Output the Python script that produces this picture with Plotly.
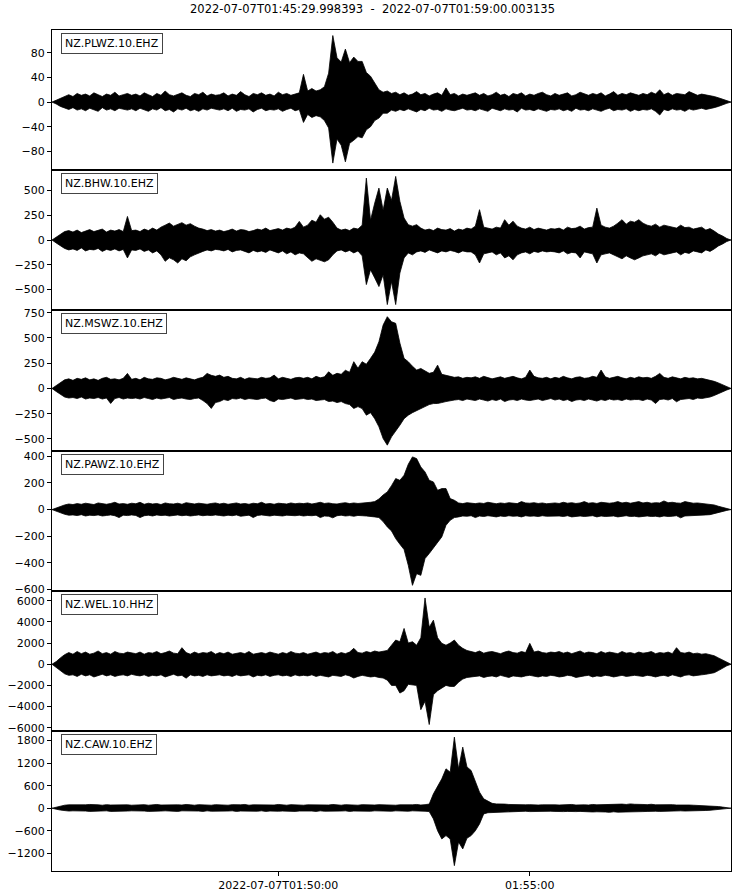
import pandas as pd
import plotly.graph_objects as go
from plotly.subplots import make_subplots

# ---------------- data (envelopes, one value every 5 s) ----------------
start_time = "2022-07-07 01:45:30"
step_seconds = 5
title_text = "2022-07-07T01:45:29.998393  -  2022-07-07T01:59:00.003135"
stations = ["NZ.PLWZ.10.EHZ", "NZ.BHW.10.EHZ", "NZ.MSWZ.10.EHZ",
            "NZ.PAWZ.10.EHZ", "NZ.WEL.10.HHZ", "NZ.CAW.10.EHZ"]

plwz_max = [0, 3, 7, 10, 12, 9, 14, 11, 13, 10, 15, 12, 9, 13, 11, 16, 10, 12, 14, 11,
            13, 10, 15, 12, 9, 14, 11, 18, 12, 10, 13, 15, 11, 9, 14, 12, 16, 10, 13, 11,
            12, 15, 10, 13, 11, 17, 12, 9, 14, 12, 15, 11, 13, 10, 16, 12, 14, 11, 13, 15,
            45, 18, 22, 18, 20, 25, 47, 108, 72, 65, 86, 64, 73, 66, 66, 48, 42, 30, 20, 16,
            18, 14, 16, 12, 15, 11, 13, 17, 12, 14, 10, 13, 15, 11, 23, 12, 14, 10, 13, 11,
            13, 15, 11, 14, 10, 12, 16, 11, 13, 9, 14, 12, 15, 10, 13, 11, 14, 16, 12, 10,
            14, 11, 13, 15, 10, 12, 16, 13, 11, 14, 12, 15, 10, 13, 17, 11, 14, 12, 15, 13,
            11, 14, 12, 16, 13, 20, 12, 15, 11, 14, 13, 12, 17, 14, 11, 13, 12, 10, 9, 7,
            5, 2, 0]
plwz_min = [0, -3, -7, -10, -12, -9, -13, -11, -14, -10, -12, -15, -9, -13, -11, -14, -10, -12, -13, -11,
            -14, -10, -12, -15, -11, -13, -9, -14, -12, -16, -11, -13, -10, -14, -12, -15, -11, -13, -10, -12,
            -13, -11, -14, -10, -15, -12, -13, -11, -16, -12, -10, -14, -12, -13, -11, -15, -12, -10, -14, -12,
            -33, -20, -25, -22, -24, -30, -42, -99, -60, -70, -97, -67, -62, -56, -58, -45, -40, -30, -26, -18,
            -18, -13, -15, -12, -14, -11, -13, -16, -12, -14, -10, -13, -12, -15, -11, -13, -14, -12, -10, -13,
            -12, -14, -11, -13, -15, -10, -12, -14, -11, -13, -12, -16, -10, -13, -12, -14, -11, -13, -15, -12,
            -13, -11, -14, -12, -15, -10, -13, -12, -14, -11, -13, -15, -12, -10, -14, -12, -13, -11, -15, -12,
            -14, -12, -13, -11, -15, -21, -12, -14, -11, -13, -12, -15, -11, -13, -12, -10, -12, -10, -9, -7,
            -5, -2, 0]

bhw_max = [0, 30, 60, 85, 95, 80, 100, 75, 90, 105, 85, 95, 110, 80, 100, 90, 105, 85, 238, 95,
           100, 85, 110, 95, 120, 100, 130, 150, 171, 140, 160, 175, 150, 165, 140, 120, 110, 95, 105, 90,
           100, 85, 95, 110, 90, 105, 100, 85, 95, 110, 100, 120, 95, 105, 115, 100, 120, 110, 130, 188,
           130, 150, 200, 180, 255, 210, 230, 180, 120, 100, 110, 95, 120, 110, 150, 625, 200, 373, 524, 300,
           524, 400, 642, 390, 222, 155, 140, 155, 120, 100, 110, 95, 120, 105, 100, 115, 90, 110, 100, 120,
           110, 140, 306, 130, 120, 110, 130, 120, 205, 150, 190, 140, 120, 110, 130, 105, 120, 110, 100, 115,
           110, 120, 100, 130, 115, 120, 140, 110, 125, 130, 322, 150, 130, 120, 140, 170, 205, 160, 190, 180,
           205, 170, 150, 140, 160, 130, 150, 140, 130, 120, 150, 125, 130, 110, 120, 130, 100, 115, 90, 60,
           40, 15, 0]
bhw_min = [0, -30, -60, -85, -100, -90, -105, -80, -110, -95, -100, -85, -115, -95, -105, -90, -110, -95, -181, -100,
           -105, -90, -115, -100, -130, -110, -150, -215, -180, -200, -232, -190, -210, -170, -150, -130, -115, -100, -110, -95,
           -100, -110, -95, -120, -105, -100, -115, -130, -105, -120, -110, -125, -100, -115, -130, -110, -140, -120, -150, -130,
           -140, -181, -215, -190, -208, -220, -200, -150, -110, -100, -120, -105, -130, -110, -160, -450, -300, -383, -470, -350,
           -652, -420, -652, -333, -181, -131, -150, -120, -110, -125, -100, -115, -130, -110, -120, -105, -115, -130, -110, -120,
           -120, -150, -232, -140, -130, -120, -150, -130, -181, -160, -200, -150, -130, -120, -140, -115, -125, -110, -120, -115,
           -120, -130, -110, -140, -125, -130, -181, -120, -130, -140, -232, -150, -140, -130, -150, -170, -190, -160, -181, -200,
           -181, -160, -150, -140, -160, -130, -150, -140, -130, -120, -150, -125, -135, -110, -120, -130, -100, -115, -90, -60,
           -40, -15, 0]

mswz_max = [0, 30, 60, 85, 95, 80, 100, 90, 105, 85, 95, 80, 100, 110, 90, 95, 85, 100, 149, 90,
            100, 85, 110, 95, 90, 105, 100, 85, 95, 110, 100, 90, 105, 95, 85, 100, 110, 149, 130, 120,
            132, 110, 120, 100, 95, 110, 90, 105, 100, 95, 110, 100, 105, 132, 95, 110, 100, 90, 105, 110,
            100, 110, 95, 120, 105, 115, 165, 130, 150, 140, 180, 160, 265, 200, 265, 240, 298, 360, 463, 628,
            711, 661, 645, 450, 298, 265, 220, 182, 198, 170, 150, 160, 231, 140, 130, 120, 110, 115, 100, 110,
            105, 115, 100, 120, 110, 95, 105, 115, 100, 110, 120, 105, 95, 110, 182, 120, 105, 100, 110, 95,
            110, 100, 120, 105, 95, 110, 115, 100, 105, 120, 110, 182, 115, 100, 110, 120, 105, 95, 110, 100,
            115, 105, 110, 100, 120, 149, 110, 100, 115, 105, 95, 110, 100, 105, 95, 100, 90, 85, 70, 55,
            35, 15, 0]
mswz_min = [0, -30, -60, -85, -95, -90, -100, -85, -105, -95, -100, -90, -105, -95, -149, -100, -90, -105, -95, -100,
            -95, -105, -90, -100, -110, -95, -105, -100, -90, -110, -100, -95, -105, -110, -100, -95, -120, -150, -198, -140,
            -130, -110, -120, -100, -105, -95, -110, -100, -105, -110, -100, -95, -120, -132, -105, -110, -100, -95, -110, -105,
            -100, -110, -105, -120, -115, -110, -130, -125, -140, -130, -150, -160, -198, -180, -200, -265, -240, -300, -380, -496,
            -562, -480, -420, -364, -300, -265, -240, -220, -198, -180, -160, -150, -149, -140, -130, -120, -115, -110, -120, -105,
            -110, -120, -105, -115, -125, -110, -120, -105, -130, -115, -110, -120, -105, -115, -120, -110, -105, -120, -110, -100,
            -115, -105, -120, -110, -130, -115, -110, -120, -105, -115, -125, -110, -120, -105, -115, -110, -120, -105, -115, -110,
            -110, -120, -105, -115, -149, -110, -105, -115, -100, -132, -110, -105, -100, -110, -95, -100, -90, -85, -70, -55,
            -35, -15, 0]

pawz_max = [0, 12, 25, 35, 42, 38, 45, 40, 48, 42, 38, 50, 44, 40, 46, 55, 42, 45, 40, 48,
            44, 55, 40, 48, 42, 46, 38, 50, 44, 42, 48, 40, 52, 45, 42, 48, 44, 40, 46, 50,
            42, 48, 40, 45, 50, 42, 46, 40, 48, 44, 55, 42, 46, 40, 48, 45, 42, 50, 44, 48,
            45, 50, 42, 48, 55, 46, 50, 44, 42, 48, 52, 45, 50, 46, 48, 52, 55, 60, 80, 110,
            133, 180, 233, 220, 258, 340, 396, 383, 320, 283, 220, 208, 145, 158, 158, 83, 70, 50, 45, 52,
            48, 45, 50, 46, 55, 48, 44, 50, 46, 52, 48, 45, 60, 50, 48, 52, 46, 50, 44, 48,
            50, 46, 55, 48, 52, 46, 50, 60, 48, 52, 46, 55, 50, 48, 52, 60, 50, 55, 48, 52,
            60, 50, 55, 48, 52, 50, 65, 52, 55, 50, 48, 60, 52, 48, 50, 46, 42, 40, 35, 25,
            15, 6, 0]
pawz_min = [0, -12, -25, -35, -42, -40, -45, -38, -48, -42, -45, -40, -48, -44, -40, -46, -60, -42, -45, -40,
            -44, -60, -46, -42, -48, -40, -45, -42, -48, -44, -40, -46, -42, -48, -44, -40, -46, -42, -45, -40,
            -44, -48, -42, -46, -40, -50, -45, -42, -60, -44, -40, -46, -48, -42, -45, -48, -42, -44, -46, -42,
            -48, -44, -46, -42, -60, -48, -50, -62, -46, -42, -48, -45, -50, -44, -46, -48, -50, -55, -60, -90,
            -130, -160, -218, -260, -300, -418, -569, -481, -494, -368, -330, -293, -250, -205, -118, -80, -60, -55, -48, -50,
            -46, -60, -48, -52, -46, -50, -55, -48, -52, -46, -50, -48, -55, -46, -50, -48, -52, -46, -50, -48,
            -50, -48, -52, -46, -55, -50, -48, -52, -50, -46, -55, -48, -52, -50, -48, -55, -50, -46, -52, -50,
            -55, -50, -48, -52, -50, -55, -48, -52, -50, -46, -62, -48, -50, -46, -45, -42, -40, -38, -32, -25,
            -15, -6, 0]

wel_max = [0, 250, 600, 900, 1100, 950, 1200, 1000, 1150, 950, 1050, 1250, 1000, 1100, 950, 1200, 1050, 1000, 1150, 1050,
           1000, 1150, 950, 1100, 1050, 1200, 1000, 1100, 1250, 1050, 1000, 1565, 1100, 950, 1150, 1000, 1100, 1050, 1200, 950,
           1100, 1000, 1150, 950, 1050, 1100, 1000, 1200, 950, 1050, 1100, 1000, 1150, 1050, 950, 1100, 1000, 1200, 1050, 1000,
           1100, 950, 1050, 1150, 1000, 1100, 1050, 1200, 950, 1100, 1000, 1150, 1502, 1100, 1050, 1200, 1100, 1250, 1150, 1200,
           1300, 1800, 2285, 2128, 3380, 2000, 2128, 1800, 2500, 6260, 3500, 4162, 2500, 1972, 1800, 2000, 2285, 1800, 1500, 1300,
           1200, 1100, 1250, 1050, 1150, 1200, 1100, 1000, 1150, 1250, 1100, 1050, 1200, 1100, 1972, 1150, 1250, 1100, 1050, 1150,
           1100, 1200, 1050, 1150, 1000, 1100, 1250, 1050, 1150, 1100, 1000, 1200, 1050, 1150, 1100, 1000, 1200, 1050, 1100, 1000,
           1150, 1050, 1100, 1200, 1000, 1100, 1050, 1150, 1000, 1565, 1100, 1050, 1150, 1000, 1050, 950, 1000, 900, 800, 600,
           400, 150, 0]
wel_min = [0, -250, -600, -900, -1050, -1000, -1150, -950, -1100, -1000, -1200, -1050, -950, -1100, -1000, -1150, -1050, -1000, -1100, -950,
           -1050, -1100, -1000, -1150, -1050, -1100, -1000, -1200, -1050, -950, -1100, -1050, -1315, -1000, -1100, -1050, -1150, -1000, -1100, -1050,
           -1000, -1100, -1050, -1150, -1000, -1100, -1050, -1000, -1200, -1050, -1100, -1000, -1150, -1050, -1000, -1100, -1050, -1150, -1000, -1100,
           -1050, -1100, -1000, -1150, -1050, -1100, -1200, -1050, -1100, -1150, -1000, -1100, -1300, -1150, -1050, -1100, -1200, -1150, -1250, -1300,
           -1500, -2000, -2000, -2723, -2500, -1900, -1940, -2000, -4288, -3500, -5696, -2880, -2500, -2253, -2000, -2097, -2097, -1700, -1400, -1250,
           -1200, -1150, -1100, -1250, -1150, -1100, -1200, -1050, -1150, -1250, -1100, -1150, -1200, -1100, -1050, -1150, -1200, -1100, -1150, -1050,
           -1100, -1200, -1150, -1050, -1100, -1250, -1150, -1100, -1050, -1200, -1100, -1150, -1050, -1100, -1200, -1100, -1050, -1150, -1100, -1050,
           -1100, -1150, -1050, -1100, -1200, -1100, -1050, -1150, -1000, -1100, -1200, -1050, -1000, -1100, -1050, -1000, -950, -900, -800, -600,
           -400, -150, 0]

caw_max = [0, 30, 60, 80, 90, 85, 95, 80, 90, 100, 85, 90, 80, 95, 85, 90, 100, 85, 90, 80,
           90, 85, 95, 80, 90, 100, 85, 90, 95, 80, 90, 85, 100, 90, 80, 95, 85, 90, 80, 95,
           85, 90, 80, 95, 85, 90, 100, 80, 90, 85, 95, 80, 90, 85, 100, 90, 80, 95, 85, 90,
           80, 90, 85, 95, 80, 90, 85, 100, 90, 80, 95, 85, 90, 80, 95, 85, 90, 85, 95, 90,
           85, 95, 80, 90, 85, 95, 90, 100, 85, 95, 110, 382, 600, 782, 1049, 960, 1893, 1049, 1627, 1100,
           1004, 700, 427, 249, 200, 130, 115, 120, 110, 100, 95, 110, 100, 90, 95, 100, 85, 90, 95, 85,
           90, 85, 95, 90, 100, 85, 95, 90, 85, 100, 90, 95, 105, 110, 100, 120, 110, 100, 115, 105,
           110, 100, 95, 105, 90, 95, 85, 90, 95, 85, 90, 80, 85, 80, 75, 80, 70, 65, 55, 45,
           30, 10, 0]
caw_min = [0, -25, -50, -65, -75, -70, -80, -70, -75, -85, -70, -80, -75, -70, -85, -75, -70, -80, -75, -70,
           -80, -70, -75, -85, -70, -80, -75, -70, -80, -75, -85, -70, -75, -80, -70, -75, -85, -70, -80, -75,
           -70, -80, -75, -70, -85, -75, -80, -70, -75, -80, -70, -85, -75, -70, -80, -75, -70, -80, -85, -75,
           -80, -70, -75, -85, -70, -80, -75, -70, -80, -75, -70, -85, -75, -80, -70, -75, -80, -70, -75, -85,
           -75, -80, -70, -85, -75, -80, -70, -85, -75, -80, -90, -284, -600, -818, -729, -818, -1529, -900, -1084, -800,
           -729, -600, -418, -151, -120, -110, -100, -95, -90, -85, -95, -90, -85, -80, -90, -85, -80, -90, -85, -80,
           -85, -80, -90, -85, -80, -90, -85, -95, -90, -100, -95, -90, -100, -110, -95, -105, -100, -95, -100, -90,
           -95, -90, -85, -90, -80, -85, -80, -75, -80, -75, -70, -75, -70, -65, -70, -65, -60, -55, -50, -40,
           -25, -10, 0]

y_ticks = [[-80, -40, 0, 40, 80],
           [-500, -250, 0, 250, 500],
           [-500, -250, 0, 250, 500, 750],
           [-600, -400, -200, 0, 200, 400],
           [-6000, -4000, -2000, 0, 2000, 4000, 6000],
           [-1200, -600, 0, 600, 1200, 1800]]
x_tick_values = ["2022-07-07 01:50:00", "2022-07-07 01:55:00"]
x_tick_labels = ["2022-07-07T01:50:00", "01:55:00"]

# ---------------- figure ----------------
uppers = [plwz_max, bhw_max, mswz_max, pawz_max, wel_max, caw_max]
lowers = [plwz_min, bhw_min, mswz_min, pawz_min, wel_min, caw_min]
y_ranges = [[-110.5, 117], [-710, 705], [-615, 774], [-609, 444],
            [-6290, 6950], [-1672, 2061]]

for up, lo in zip(uppers, lowers):
    assert len(up) == len(lo) == 163, (len(up), len(lo))

fig = make_subplots(rows=6, cols=1, shared_xaxes=True, vertical_spacing=0)

for i in range(6):
    up = uppers[i]
    lo = lowers[i]
    times = pd.Timestamp(start_time) + pd.to_timedelta(
        [k * step_seconds for k in range(len(up))], unit="s")
    xs = list(times) + list(times[::-1])
    ys = list(up) + list(lo[::-1])
    fig.add_trace(go.Scatter(x=xs, y=ys, mode="lines", fill="toself",
                             fillcolor="black", line=dict(color="black", width=0.8),
                             hoverinfo="skip", showlegend=False),
                  row=i + 1, col=1)
    fig.update_yaxes(range=y_ranges[i], tickvals=y_ticks[i],
                     ticktext=[str(v).replace("-", "\u2212") for v in y_ticks[i]],
                     row=i + 1, col=1)
    fig.add_annotation(text=stations[i], xref="x domain" if i == 0 else f"x{i+1} domain",
                       yref="y domain" if i == 0 else f"y{i+1} domain",
                       x=0, y=1, xanchor="left", yanchor="top", xshift=9, yshift=-3,
                       showarrow=False, font=dict(size=11, color="black"),
                       bgcolor="white", bordercolor="#444444", borderwidth=1, borderpad=3)

fig.update_yaxes(showline=True, linecolor="black", linewidth=1, mirror=True,
                 ticks="outside", ticklen=4, tickcolor="black", showgrid=False,
                 zeroline=False, automargin=False, tickfont=dict(size=11, color="black"))
fig.update_xaxes(type="date", showline=True, linecolor="black", linewidth=1, mirror=True,
                 showgrid=False, zeroline=False, ticks="", automargin=False,
                 range=["2022-07-07 01:45:29.998", "2022-07-07 01:59:00.003"],
                 showticklabels=False)
fig.update_xaxes(row=6, col=1, ticks="outside", ticklen=4, tickcolor="black",
                 showticklabels=True, tickvals=x_tick_values, ticktext=x_tick_labels,
                 tickfont=dict(size=11, color="black"))

fig.update_layout(width=745, height=896, plot_bgcolor="white", paper_bgcolor="white",
                  margin=dict(l=52, r=14, t=30, b=25, autoexpand=False),
                  font=dict(family="DejaVu Sans", color="black"),
                  title=dict(text=title_text, x=0.5, xanchor="center",
                             y=1 - 9 / 896, yanchor="middle", automargin=False,
                             font=dict(size=11.5, color="black")))

fig.write_html("out.html", config={"displayModeBar": False},
               post_script="document.body.style.margin='0';document.body.style.padding='0';")
